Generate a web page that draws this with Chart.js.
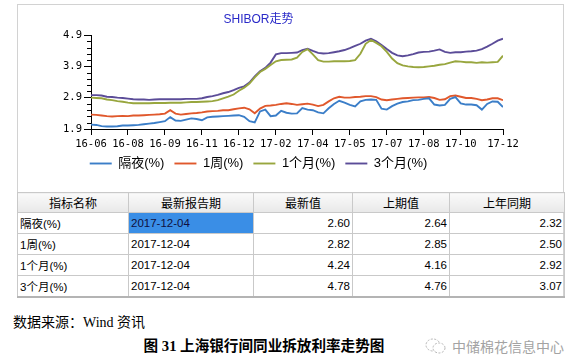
<!DOCTYPE html>
<html lang="zh-CN">
<head>
<meta charset="utf-8">
<title>SHIBOR走势</title>
<script src="https://cdn.jsdelivr.net/npm/chart.js@4.4.1/dist/chart.umd.min.js"></script>
<style>
html, body { margin: 0; padding: 0; background: #fff; }
body { position: relative; width: 582px; height: 362px; overflow: hidden;
       font-family: "Liberation Sans", "Noto Sans CJK SC", sans-serif; color: #000; }
#panel { position: absolute; left: 17px; top: 4px; width: 545px; height: 292px; border: 1px solid #d2d2d2; }
#chartWrap { position: absolute; left: 14px; top: 4px; width: 546px; height: 176px; }
#rates { position: absolute; left: 17px; top: 192px; width: 547px; border-collapse: collapse;
         table-layout: fixed; font-size: 11.5px; }
#rates th, #rates td { border: 1px solid #c9c9c9; padding: 0 3px; height: 20px; white-space: nowrap; overflow: hidden; }
#rates th { font-weight: normal; font-size: 12px; height: 19px; text-align: center;
            background: linear-gradient(#fafafa, #e8e8e8); }
#rates td { padding-left: 2px; }
#rates td.num { text-align: right; padding-right: 2px; }
#rates td.sel { background: #3a8ee6; color: #101040; }
#rates tr:last-child td { border-bottom: 2px solid #b4b4b4; }
.note { position: absolute; left: 13px; top: 314px; font-family: "Liberation Serif", "Noto Sans CJK SC", serif;
        font-size: 14px; line-height: 18px; }
.caption { position: absolute; left: 0; width: 528px; top: 337px; text-align: center;
           font-family: "Liberation Serif", "Noto Sans CJK SC", serif; font-weight: bold; font-size: 14.6px; line-height: 18px; }
.mark { position: absolute; left: 425px; top: 337px; color: #a3a3a3; font-size: 14px; line-height: 18px; }
.mark svg { vertical-align: -3px; margin-right: 5px; }
</style>
</head>
<body>
<div id="panel"></div>
<div id="chartWrap"><canvas id="shibor" width="546" height="176"></canvas></div>

<table id="rates">
  <colgroup><col style="width:111px"><col style="width:125px"><col style="width:99px"><col style="width:97px"><col style="width:115px"></colgroup>
  <thead><tr id="headRow"></tr></thead>
  <tbody id="bodyRows"></tbody>
</table>

<div class="note">数据来源：Wind 资讯</div>
<div class="caption">图 31 上海银行间同业拆放利率走势图</div>
<div class="mark"><svg width="22" height="18" viewBox="0 0 22 18"><ellipse cx="8" cy="8" rx="7" ry="6" fill="none" stroke="#b5b5b5" stroke-width="1" stroke-dasharray="2 1.5"/><ellipse cx="14" cy="11" rx="6" ry="5" fill="#fff" stroke="#b5b5b5" stroke-width="1" stroke-dasharray="2 1.5"/></svg>中储棉花信息中心</div>

<script>
'use strict';

// weekly samples, 2016-06 .. 2017-12
const seriesNames = ['隔夜(%)', '1周(%)', '1个月(%)', '3个月(%)'];
const seriesColors = ['#3b7ec8', '#e0582c', '#98a63e', '#5b4c98'];

const overnight = [
    2.04, 2.03, 1.99, 1.98, 1.98, 1.99, 2.01, 2.01, 2.02, 2.03, 2.05, 2.07, 2.09, 2.12, 2.15, 2.28, 2.17, 2.16, 2.20, 2.24,
    2.22, 2.18, 2.27, 2.29, 2.30, 2.31, 2.32, 2.33, 2.34, 2.29, 2.15, 2.11, 2.46, 2.52, 2.31, 2.33, 2.48, 2.42, 2.39, 2.40,
    2.57, 2.52, 2.50, 2.43, 2.40, 2.56, 2.70, 2.80, 2.74, 2.67, 2.62, 2.78, 2.83, 2.84, 2.83, 2.55, 2.52, 2.63, 2.71, 2.76,
    2.78, 2.82, 2.83, 2.86, 2.88, 2.68, 2.65, 2.67, 2.86, 2.92, 2.72, 2.68, 2.68, 2.66, 2.52, 2.70, 2.78, 2.77, 2.60
];
const oneWeek = [
    2.36, 2.35, 2.33, 2.31, 2.30, 2.31, 2.32, 2.31, 2.33, 2.33, 2.34, 2.35, 2.36, 2.37, 2.39, 2.50, 2.39, 2.36, 2.38, 2.40,
    2.41, 2.43, 2.46, 2.47, 2.48, 2.50, 2.50, 2.53, 2.56, 2.58, 2.53, 2.40, 2.55, 2.64, 2.65, 2.67, 2.70, 2.72, 2.70, 2.67,
    2.69, 2.71, 2.68, 2.63, 2.67, 2.78, 2.88, 2.93, 2.90, 2.90, 2.92, 2.93, 2.95, 2.95, 2.92, 2.84, 2.82, 2.84, 2.86, 2.88,
    2.89, 2.90, 2.91, 2.91, 2.92, 2.89, 2.83, 2.85, 2.95, 2.97, 2.93, 2.89, 2.89, 2.86, 2.82, 2.84, 2.88, 2.88, 2.82
];
const oneMonth = [
    2.90, 2.89, 2.88, 2.84, 2.82, 2.79, 2.77, 2.74, 2.72, 2.72, 2.72, 2.72, 2.73, 2.73, 2.73, 2.74, 2.74, 2.74, 2.75, 2.76,
    2.76, 2.77, 2.78, 2.79, 2.82, 2.88, 2.93, 3.00, 3.12, 3.22, 3.35, 3.55, 3.72, 3.82, 3.94, 4.06, 4.10, 4.11, 4.12, 4.18,
    4.36, 4.45, 4.28, 4.10, 4.05, 4.05, 4.06, 4.06, 4.06, 4.07, 4.10, 4.30, 4.62, 4.74, 4.65, 4.54, 4.36, 4.15, 4.00, 3.93,
    3.90, 3.88, 3.87, 3.88, 3.90, 3.92, 3.95, 3.97, 4.02, 4.06, 4.05, 4.03, 4.03, 4.01, 4.03, 4.02, 4.03, 4.04, 4.24
];
const threeMonth = [
    2.98, 2.98, 2.97, 2.93, 2.92, 2.90, 2.89, 2.87, 2.85, 2.84, 2.84, 2.83, 2.84, 2.85, 2.85, 2.85, 2.85, 2.85, 2.86, 2.86,
    2.86, 2.88, 2.92, 2.95, 2.99, 3.04, 3.08, 3.14, 3.21, 3.26, 3.38, 3.58, 3.74, 3.85, 4.02, 4.28, 4.32, 4.32, 4.33, 4.34,
    4.42, 4.46, 4.39, 4.33, 4.31, 4.32, 4.35, 4.38, 4.42, 4.48, 4.55, 4.62, 4.72, 4.78, 4.70, 4.58, 4.45, 4.33, 4.25, 4.22,
    4.25, 4.29, 4.34, 4.36, 4.37, 4.40, 4.44, 4.36, 4.33, 4.35, 4.35, 4.37, 4.38, 4.40, 4.45, 4.53, 4.62, 4.72, 4.78
];

const tickLabels = ['16-06', '16-08', '16-09', '16-11', '16-12', '17-02', '17-04', '17-05', '17-07', '17-08', '17-10', '17-12'];
const tickWeeks = [0, 7, 14, 21, 28, 35, 42, 49, 56, 63, 70, 78];

// table
const tableHead = ['指标名称', '最新报告期', '最新值', '上期值', '上年同期'];
const reportDate = '2017-12-04';
const latestValues = ['2.60', '2.82', '4.24', '4.78'];
const previousValues = ['2.64', '2.85', '4.16', '4.76'];
const yearAgoValues = ['2.32', '2.50', '2.92', '3.07'];

function fillTable() {
    const head = document.getElementById('headRow');
    tableHead.forEach(h => {
        const th = document.createElement('th');
        th.textContent = h;
        head.appendChild(th);
    });
    const body = document.getElementById('bodyRows');
    seriesNames.forEach((name, i) => {
        const tr = document.createElement('tr');
        const cells = [name, reportDate, latestValues[i], previousValues[i], yearAgoValues[i]];
        cells.forEach((c, j) => {
            const td = document.createElement('td');
            td.textContent = c;
            if (j > 1) td.className = 'num';
            if (i === 0 && j === 1) td.className = 'sel';
            tr.appendChild(td);
        });
        body.appendChild(tr);
    });
}

const isMajor = v => Math.abs(Math.round(v - 1.9) - (v - 1.9)) < 1e-6;

// short ticks between the labelled ones on the value axis
const minorTicks = {
    id: 'minorTicks',
    afterDraw(chart) {
        const s = chart.scales.y;
        const ctx = chart.ctx;
        ctx.save();
        ctx.strokeStyle = '#000';
        ctx.lineWidth = 1;
        ctx.beginPath();
        s.ticks.forEach(t => {
            if (isMajor(t.value)) return;
            const y = Math.round(s.getPixelForValue(t.value)) + 0.5;
            ctx.moveTo(s.right - 4, y);
            ctx.lineTo(s.right, y);
        });
        ctx.stroke();
        ctx.restore();
    }
};

function drawChart() {
    const weeks = overnight.map((_, i) => i);
    const values = [overnight, oneWeek, oneMonth, threeMonth];
    const monoFont = { family: '"DejaVu Sans Mono", "Liberation Mono", monospace', size: 10.5 };

    new Chart(document.getElementById('shibor'), {
        type: 'line',
        data: {
            labels: weeks,
            datasets: values.map((v, i) => ({
                label: seriesNames[i],
                data: v,
                borderColor: seriesColors[i],
                backgroundColor: seriesColors[i],
                borderWidth: 1.9,
                pointRadius: 0,
                tension: 0,
                fill: false
            }))
        },
        options: {
            responsive: false,
            animation: false,
            layout: { padding: { left: 0, right: 57, top: 0, bottom: 0 } },
            plugins: {
                title: {
                    display: true,
                    text: 'SHIBOR走势',
                    color: '#2a2ac8',
                    font: { family: '"Liberation Sans", "Noto Sans CJK SC", sans-serif', size: 12, weight: 'normal' },
                    padding: { top: 8.6, bottom: 8 }
                },
                legend: {
                    position: 'bottom',
                    labels: {
                        usePointStyle: true,
                        pointStyle: 'line',
                        pointStyleWidth: 22,
                        padding: 10,
                        color: '#000',
                        font: { family: '"Liberation Sans", "Noto Sans CJK SC", sans-serif', size: 13 }
                    }
                },
                tooltip: { enabled: false }
            },
            scales: {
                x: {
                    type: 'linear',
                    min: 0,
                    max: 78,
                    afterBuildTicks: s => { s.ticks = tickWeeks.map(v => ({ value: v })); },
                    afterFit: s => { s.height = 18; },
                    ticks: {
                        autoSkip: false,
                        maxRotation: 0,
                        padding: 3,
                        color: '#000',
                        font: monoFont,
                        callback: v => tickLabels[tickWeeks.indexOf(v)]
                    },
                    grid: { display: true, drawOnChartArea: false, tickLength: 6, tickColor: '#000' },
                    border: { display: true, color: '#000', width: 1 }
                },
                y: {
                    min: 1.9,
                    max: 4.9,
                    afterFit: s => { s.width = 77; },
                    ticks: {
                        stepSize: 0.2,
                        autoSkip: false,
                        padding: 2,
                        color: '#000',
                        font: monoFont,
                        callback: v => isMajor(v) ? v.toFixed(1) : ''
                    },
                    grid: {
                        display: true,
                        drawOnChartArea: false,
                        tickLength: 7,
                        tickColor: c => (c.tick && isMajor(c.tick.value)) ? '#000' : 'rgba(0,0,0,0)'
                    },
                    border: { display: true, color: '#000', width: 1 }
                }
            }
        },
        plugins: [minorTicks]
    });
}

fillTable();
drawChart();
</script>
</body>
</html>
